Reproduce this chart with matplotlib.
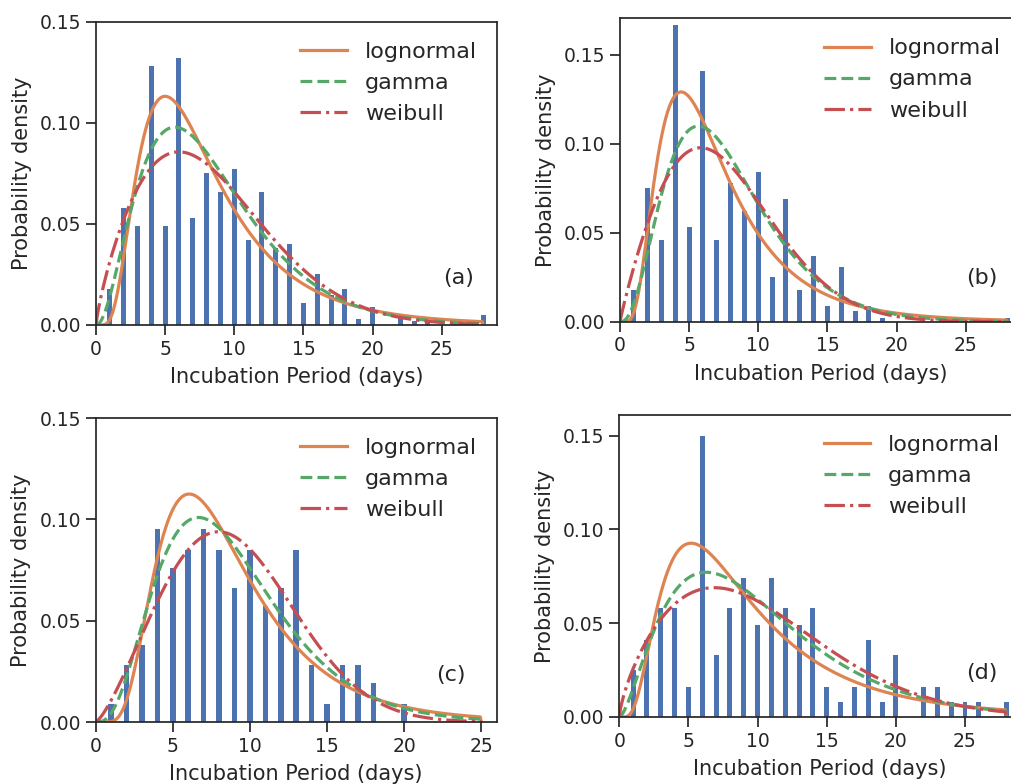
"""Incubation period histograms with lognormal / gamma / weibull fits, 2x2 panels."""

from math import gamma as gamma_fn

import matplotlib

matplotlib.use("Agg")
import matplotlib.pyplot as plt
import numpy as np

days = np.arange(1, 29)

# density per day (index 0 = day 1)
density_a = [0.018, 0.058, 0.049, 0.128, 0.049, 0.132, 0.053, 0.075, 0.066, 0.077,
             0.042, 0.066, 0.038, 0.040, 0.011, 0.025, 0.015, 0.018, 0.003, 0.009,
             0.0, 0.004, 0.002, 0.002, 0.0, 0.001, 0.0, 0.005]
density_b = [0.018, 0.075, 0.046, 0.167, 0.053, 0.141, 0.046, 0.078, 0.062, 0.084,
             0.025, 0.069, 0.018, 0.037, 0.009, 0.031, 0.006, 0.009, 0.002, 0.0,
             0.0, 0.0, 0.0, 0.0, 0.0, 0.002, 0.0, 0.002]
density_c = [0.009, 0.028, 0.038, 0.095, 0.076, 0.085, 0.095, 0.085, 0.066, 0.085,
             0.057, 0.066, 0.085, 0.028, 0.009, 0.028, 0.028, 0.019, 0.0, 0.009,
             0.0, 0.0, 0.0, 0.0, 0.0, 0.0, 0.0, 0.0]
density_d = [0.025, 0.041, 0.058, 0.058, 0.016, 0.150, 0.033, 0.058, 0.074, 0.049,
             0.074, 0.058, 0.049, 0.058, 0.016, 0.008, 0.016, 0.041, 0.008, 0.033,
             0.0, 0.016, 0.016, 0.008, 0.008, 0.008, 0.0, 0.008]

# fitted parameters, estimated from the curve peaks
# lognormal (mu, sigma), gamma (shape, scale), weibull (shape, scale)
lognormal_fit = {"a": (1.96, 0.592), "b": (1.832, 0.588), "c": (2.065, 0.513), "d": (2.089, 0.665)}
gamma_fit = {"a": (3.11, 2.70), "b": (3.6, 2.18), "c": (4.0, 2.22), "d": (2.63, 3.85)}
weibull_fit = {"a": (1.8, 9.4), "b": (1.92, 8.55), "c": (2.32, 10.15), "d": (1.72, 11.4)}

curve_end = {"a": 28, "b": 28, "c": 25, "d": 28}
x_max = {"a": 29, "b": 29, "c": 26, "d": 29}
y_max = {"a": 0.15, "b": 0.1705, "c": 0.15, "d": 0.161}
label_pos = {"a": (0.903, 0.155), "b": (0.902, 0.143), "c": (0.885, 0.155), "d": (0.905, 0.147)}


def lognormal_pdf(x, mu, s):
    return np.exp(-((np.log(x) - mu) ** 2) / (2 * s * s)) / (x * s * np.sqrt(2 * np.pi))


def gamma_pdf(x, k, theta):
    return x ** (k - 1) * np.exp(-x / theta) / (gamma_fn(k) * theta ** k)


def weibull_pdf(x, k, lam):
    return (k / lam) * (x / lam) ** (k - 1) * np.exp(-((x / lam) ** k))


def closed(y):
    # the original curves fall back to zero at the last grid point
    y = y.copy()
    y[-1] = 0.0
    return y


plt.rcParams.update(
    {
        "font.family": "DejaVu Sans",
        "text.color": "#262626",
        "axes.labelcolor": "#262626",
        "axes.edgecolor": "#262626",
        "axes.linewidth": 1.25,
        "xtick.color": "#262626",
        "ytick.color": "#262626",
        "xtick.major.size": 7,
        "ytick.major.size": 7,
        "xtick.major.width": 1.25,
        "ytick.major.width": 1.25,
        "xtick.labelsize": 13.5,
        "ytick.labelsize": 13.5,
        "axes.labelsize": 15,
        "legend.fontsize": 16,
    }
)

W, H = 1011, 784
fig = plt.figure(figsize=(W / 100, H / 100), dpi=100)
boxes = {
    "a": (96, 325, 303.3),
    "b": (620, 321.7, 303.4),
    "c": (95.7, 722, 304),
    "d": (619.3, 717, 302),
}
series = {"a": density_a, "b": density_b, "c": density_c, "d": density_d}

for key, (left, bottom, height) in boxes.items():
    ax = fig.add_axes([left / W, (H - bottom) / H, 401 / W, height / H])
    ax.bar(days, series[key], width=0.36, color="#4C72B0", zorder=1)
    x = np.linspace(0.01, curve_end[key], 400)
    ax.plot(x, closed(lognormal_pdf(x, *lognormal_fit[key])), color="#DD8452",
            lw=2.3, label="lognormal")
    ax.plot(x, closed(gamma_pdf(x, *gamma_fit[key])), color="#55A868", lw=2.3,
            ls="--", label="gamma")
    ax.plot(x, closed(weibull_pdf(x, *weibull_fit[key])), color="#C44E52", lw=2.3,
            ls="-.", label="weibull")
    ax.set_xlim(0, x_max[key])
    ax.set_ylim(0, y_max[key])
    ax.set_xticks([0, 5, 10, 15, 20, 25])
    ax.set_yticks([0.0, 0.05, 0.10, 0.15])
    ax.set_yticklabels(["0.00", "0.05", "0.10", "0.15"])
    ax.set_xlabel("Incubation Period (days)", labelpad=6)
    ax.set_ylabel("Probability density", labelpad=6)
    ax.legend(loc="upper right", frameon=False, handlelength=2.1)
    ax.text(*label_pos[key], f"({key})", transform=ax.transAxes, fontsize=16,
            ha="center", va="center")

fig.savefig("out.png", dpi=100)
